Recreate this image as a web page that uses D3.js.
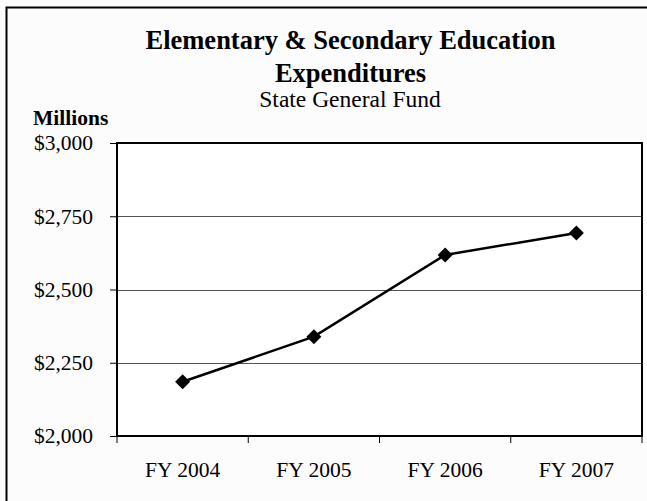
<!DOCTYPE html>
<html>
<head>
<meta charset="utf-8">
<script src="https://cdn.jsdelivr.net/npm/d3@7"></script>
<style>
  html, body { margin: 0; padding: 0; background: #fcfcfc; }
  svg { display: block; }
  text { font-family: "Liberation Serif", "Times New Roman", serif; fill: #000; }
</style>
</head>
<body>
<svg id="chart" width="647" height="501"></svg>
<script>
// Elementary & secondary education spending, state general fund ($ millions)
const categories = ["FY 2004", "FY 2005", "FY 2006", "FY 2007"];
const expenditures = [2185, 2339, 2618, 2693];
const yTicks = [2000, 2250, 2500, 2750, 3000];

const svg = d3.select("#chart");
const W = 647, H = 501;
const plot = { left: 117, right: 642, top: 143, bottom: 436 };
const tickFont = 21.5;

// outer frame (runs past the bottom/right of the view)
svg.append("rect")
  .attr("x", 6.5).attr("y", 7.5)
  .attr("width", W + 10).attr("height", H + 10)
  .attr("fill", "#fcfcfc")
  .attr("stroke", "#000").attr("stroke-width", 2);

const x = d3.scaleBand().domain(categories).range([plot.left, plot.right]).padding(0);
const y = d3.scaleLinear().domain([2000, 3000]).range([plot.bottom, plot.top]);

// plot background
svg.append("rect")
  .attr("x", plot.left).attr("y", plot.top)
  .attr("width", plot.right - plot.left).attr("height", plot.bottom - plot.top)
  .attr("fill", "#fff");

// gridlines
svg.append("g")
  .selectAll("line")
  .data(yTicks.filter(v => v > 2000 && v < 3000))
  .join("line")
  .attr("x1", plot.left).attr("x2", plot.right)
  .attr("y1", d => Math.round(y(d)) + 0.5).attr("y2", d => Math.round(y(d)) + 0.5)
  .attr("stroke", "#555").attr("stroke-width", 1);

// y axis
const yAxis = svg.append("g")
  .attr("transform", `translate(${plot.left},0)`)
  .call(d3.axisLeft(y).tickValues(yTicks).tickSize(7).tickPadding(17)
    .tickFormat(d => "$" + d3.format(",")(d)));
yAxis.select(".domain").remove();
yAxis.selectAll(".tick line").attr("stroke", "#000").attr("stroke-width", 1);
yAxis.selectAll(".tick text").attr("font-size", tickFont + "px");

// x axis with ticks at category boundaries
const xAxis = svg.append("g")
  .attr("transform", `translate(0,${plot.bottom})`)
  .call(d3.axisBottom(x).tickSize(0).tickPadding(26));
xAxis.select(".domain").remove();
xAxis.selectAll(".tick text").attr("font-size", tickFont + "px");
const bounds = categories.map(c => x(c)).concat([x(categories[categories.length - 1]) + x.bandwidth()]);
svg.append("g").selectAll("line")
  .data(bounds)
  .join("line")
  .attr("x1", d => d).attr("x2", d => d)
  .attr("y1", plot.bottom).attr("y2", plot.bottom + 7)
  .attr("stroke", "#000").attr("stroke-width", 1);

// plot border
svg.append("rect")
  .attr("x", plot.left).attr("y", plot.top)
  .attr("width", plot.right - plot.left).attr("height", plot.bottom - plot.top)
  .attr("fill", "none")
  .attr("stroke", "#000").attr("stroke-width", 2);

// series line
const cx = c => x(c) + x.bandwidth() / 2;
const pts = categories.map((c, i) => [cx(c), y(expenditures[i])]);
svg.append("path")
  .attr("d", d3.line()(pts))
  .attr("fill", "none")
  .attr("stroke", "#000").attr("stroke-width", 2.5);

// diamond markers
svg.append("g").selectAll("path")
  .data(pts)
  .join("path")
  .attr("d", d3.symbol(d3.symbolSquare, 112)())
  .attr("transform", d => `translate(${d[0]},${d[1]}) rotate(45)`)
  .attr("fill", "#000");

// titles
function label(txt, tx, ty, size, weight, anchor) {
  svg.append("text")
    .attr("x", tx).attr("y", ty)
    .attr("text-anchor", anchor)
    .attr("font-size", size + "px")
    .attr("font-weight", weight)
    .text(txt);
}
label("Elementary & Secondary Education", 350.5, 49, 26.5, "bold", "middle");
label("Expenditures", 350.5, 82, 26.5, "bold", "middle");
label("State General Fund", 350, 107, 23.5, "normal", "middle");
label("Millions", 33, 125, 21.5, "bold", "start");
</script>
</body>
</html>
